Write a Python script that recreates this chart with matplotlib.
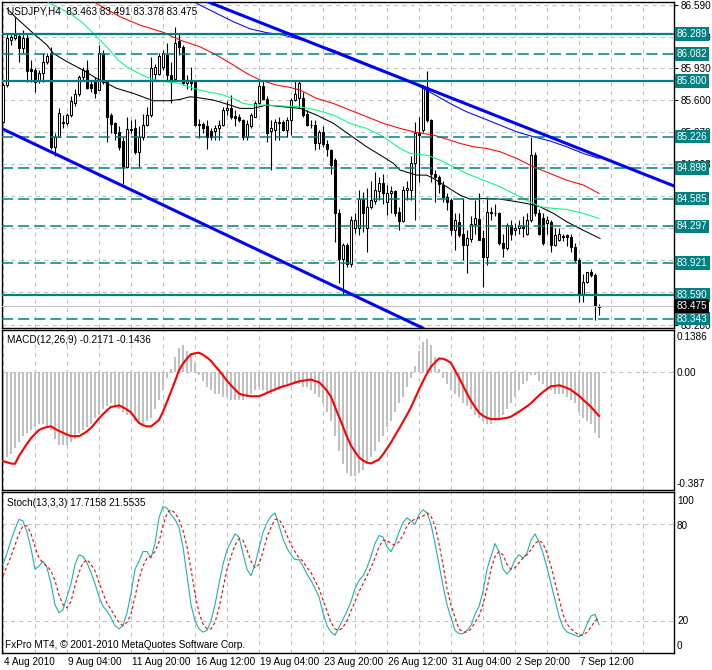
import numpy as np
import matplotlib
matplotlib.use('Agg')
import matplotlib.pyplot as plt
from matplotlib import transforms

plt.rcParams['font.family'] = ['Liberation Sans', 'DejaVu Sans']
plt.rcParams['lines.scale_dashes'] = False

# ---------------- data ----------------
opens = [85.38, 85.76, 86.22, 86.24, 86.27, 86.14, 86.24, 85.92, 85.91, 85.81,
         85.88, 86.00, 86.09, 85.12, 85.22, 85.37, 85.37, 85.45, 85.57, 85.67,
         85.84, 85.91, 85.77, 85.81, 85.71, 86.09, 85.79, 85.45, 85.37, 85.27,
         85.18, 84.91, 85.29, 85.31, 85.07, 85.22, 85.35, 85.45, 85.87, 85.87,
         85.95, 86.07, 85.86, 85.82, 86.21, 86.15, 85.78, 85.81, 85.79, 85.36,
         85.36, 85.33, 85.28, 85.28, 85.31, 85.34, 85.50, 85.52, 85.44, 85.43,
         85.40, 85.22, 85.33, 85.43, 85.57, 85.75, 85.61, 85.28, 85.29, 85.38,
         85.38, 85.29, 85.40, 85.60, 85.62, 85.62, 85.46, 85.35, 85.35, 85.16,
         85.27, 85.15, 85.09, 84.98, 84.43, 83.96, 84.10, 83.91, 84.28, 84.28,
         84.58, 84.28, 84.50, 84.56, 84.66, 84.75, 84.55, 84.64, 84.66, 84.45,
         84.35, 84.67, 84.67, 84.95, 85.26, 85.29, 85.74, 85.40, 84.84, 84.81,
         84.72, 84.60, 84.57, 84.26, 84.34, 84.22, 84.10, 84.17, 84.32, 84.37,
         84.18, 83.98, 84.45, 84.44, 84.43, 84.13, 84.07, 84.31, 84.26, 84.28,
         84.30, 84.22, 84.36, 85.04, 84.43, 84.38, 84.33, 84.34, 84.10, 84.16,
         84.20, 84.21, 84.19, 84.08, 83.95, 83.60, 83.72, 83.82, 83.79, 83.463]
highs = [85.78, 86.29, 86.29, 86.46, 86.29, 86.33, 86.29, 86.02, 85.93, 85.91,
         86.09, 86.09, 86.15, 85.26, 85.52, 85.45, 85.47, 85.64, 85.72, 85.86,
         85.95, 86.02, 85.81, 85.84, 86.17, 86.12, 85.81, 85.47, 85.38, 85.33,
         85.22, 85.43, 85.40, 85.41, 85.33, 85.46, 85.53, 86.05, 85.98, 86.09,
         86.12, 86.19, 86.00, 86.36, 86.29, 86.17, 85.86, 85.95, 85.79, 85.41,
         85.38, 85.40, 85.31, 85.34, 85.40, 85.53, 85.59, 85.66, 85.50, 85.46,
         85.41, 85.40, 85.47, 85.59, 85.81, 85.81, 85.64, 85.40, 85.41, 85.43,
         85.40, 85.43, 85.62, 85.81, 85.81, 85.69, 85.50, 85.40, 85.40, 85.29,
         85.33, 85.19, 85.10, 85.00, 84.48, 84.12, 84.12, 84.40, 84.43, 84.67,
         84.65, 84.69, 84.77, 84.86, 84.81, 84.84, 84.72, 84.71, 84.67, 84.50,
         84.71, 84.77, 85.02, 85.38, 85.43, 85.76, 85.90, 85.41, 84.88, 84.83,
         84.77, 84.64, 84.59, 84.43, 84.43, 84.59, 84.26, 84.40, 84.57, 84.64,
         84.26, 84.60, 84.50, 84.53, 84.45, 84.22, 84.33, 84.36, 84.33, 84.36,
         84.40, 84.43, 85.22, 85.07, 84.48, 84.43, 84.40, 84.36, 84.28, 84.28,
         84.22, 84.22, 84.22, 84.12, 83.97, 83.80, 83.83, 83.86, 83.81, 83.491]
lows = [85.37, 85.74, 86.17, 86.22, 86.00, 86.09, 85.79, 85.79, 85.69, 85.78,
        85.79, 85.98, 85.10, 85.02, 85.22, 85.31, 85.35, 85.43, 85.54, 85.65,
        85.81, 85.72, 85.69, 85.62, 85.71, 85.77, 85.17, 85.26, 85.19, 85.09,
        84.74, 84.90, 85.26, 85.05, 84.91, 85.19, 85.33, 85.43, 85.81, 85.86,
        85.91, 85.81, 85.57, 85.81, 86.07, 85.76, 85.72, 85.71, 85.33, 85.21,
        85.26, 85.10, 85.19, 85.19, 85.19, 85.33, 85.45, 85.41, 85.33, 85.38,
        85.19, 85.19, 85.31, 85.43, 85.56, 85.61, 85.17, 84.88, 85.19, 85.19,
        85.28, 85.22, 85.24, 85.59, 85.52, 85.43, 85.33, 85.31, 85.09, 85.10,
        85.12, 85.02, 84.84, 84.14, 83.71, 83.59, 83.88, 83.88, 84.23, 84.21,
        84.24, 84.03, 84.48, 84.53, 84.57, 84.53, 84.41, 84.43, 84.40, 84.26,
        84.34, 84.57, 84.57, 84.36, 84.76, 85.27, 85.38, 84.76, 84.55, 84.64,
        84.55, 84.47, 84.21, 84.05, 84.19, 83.95, 83.81, 84.14, 84.22, 84.16,
        83.67, 83.90, 84.36, 84.40, 84.10, 83.98, 84.05, 84.16, 84.21, 84.22,
        84.19, 84.21, 84.34, 84.40, 84.21, 84.10, 84.22, 84.03, 84.09, 84.15,
        84.15, 84.09, 84.03, 83.93, 83.52, 83.52, 83.71, 83.77, 83.33, 83.378]
closes = [85.76, 86.24, 86.25, 86.28, 86.14, 86.24, 85.90, 85.90, 85.79, 85.88,
          86.00, 86.06, 85.12, 85.22, 85.47, 85.38, 85.45, 85.59, 85.67, 85.84,
          85.91, 85.73, 85.73, 85.68, 86.09, 85.79, 85.43, 85.36, 85.26, 85.12,
          84.91, 85.30, 85.30, 85.07, 85.22, 85.35, 85.45, 85.93, 85.95, 86.06,
          86.09, 85.86, 85.82, 86.19, 86.15, 85.78, 85.81, 85.78, 85.35, 85.34,
          85.31, 85.22, 85.22, 85.31, 85.34, 85.50, 85.52, 85.43, 85.42, 85.40,
          85.22, 85.36, 85.45, 85.57, 85.75, 85.61, 85.26, 85.31, 85.38, 85.37,
          85.29, 85.40, 85.60, 85.67, 85.78, 85.45, 85.34, 85.34, 85.16, 85.27,
          85.15, 85.10, 84.93, 84.43, 83.96, 84.10, 83.91, 84.36, 84.36, 84.58,
          84.43, 84.50, 84.57, 84.67, 84.75, 84.64, 84.64, 84.66, 84.44, 84.35,
          84.67, 84.69, 84.95, 85.26, 85.24, 85.73, 85.40, 84.84, 84.81, 84.74,
          84.60, 84.55, 84.26, 84.36, 84.21, 84.10, 84.18, 84.32, 84.38, 84.16,
          83.98, 84.45, 84.43, 84.43, 84.13, 84.07, 84.31, 84.22, 84.28, 84.30,
          84.28, 84.36, 85.04, 84.43, 84.22, 84.12, 84.36, 84.10, 84.21, 84.22,
          84.19, 84.19, 84.08, 83.95, 83.60, 83.72, 83.82, 83.79, 83.47, 83.475]

# moving averages: (bar, price) samples
ma_black_x = [1, 3, 7.6, 11, 12.6, 16, 20, 23.4, 26, 28.4, 32.6, 36, 37.6, 41.75, 44.25, 46.75,
              48.4, 52.6, 55.9, 59.25, 62.6, 65.9, 70, 74.25, 78.4, 82.6, 86.75, 90.9, 95,
              97.6, 99.25, 103.4, 105.9, 107.6, 110.9, 114.25, 116.75, 120.9, 124.25, 128.4,
              131.75, 134.25, 137.6, 140.9, 145, 149.25]
ma_black_y = [86.55, 86.465, 86.292, 86.172, 86.085, 86.000, 85.913, 85.827, 85.775, 85.724,
              85.672, 85.620, 85.596, 85.596, 85.610, 85.637, 85.630, 85.603, 85.562, 85.517,
              85.517, 85.551, 85.534, 85.517, 85.448, 85.362, 85.241, 85.120, 85.017, 84.948,
              84.879, 84.827, 84.827, 84.793, 84.707, 84.620, 84.579, 84.586, 84.579, 84.552,
              84.527, 84.500, 84.431, 84.345, 84.258, 84.172]
ma_green_x = [11.3, 16.75, 20.1, 23.4, 25.9, 28.8, 30.9, 34.25, 36.75, 38.4, 40.9, 44.25, 47.6,
              50.9, 54.25, 57.6, 60.1, 62.6, 65.9, 70.1, 74.25, 78.4, 82.6, 86.75, 90.9, 95.1,
              99.25, 101.75, 105.9, 109.25, 112.6, 115.9, 120.1, 124.25, 128.4, 131.75, 134.25,
              137.6, 140.9, 145.1, 149.0]
ma_green_y = [86.61, 86.499, 86.396, 86.258, 86.154, 86.016, 85.948, 85.872, 85.827, 85.810,
              85.792, 85.775, 85.724, 85.689, 85.665, 85.620, 85.568, 85.551, 85.551, 85.541,
              85.534, 85.499, 85.448, 85.362, 85.310, 85.224, 85.103, 85.051, 85.034, 84.982,
              84.913, 84.844, 84.775, 84.707, 84.620, 84.552, 84.500, 84.483, 84.472, 84.431,
              84.379]
ma_red_x = [23, 29.25, 34.25, 40.1, 44.25, 49.25, 53.4, 57.6, 60.9, 64.25, 68.4, 71.75, 74.25,
            78.4, 82.6, 86.75, 90.9, 95.1, 99.25, 103.4, 107.6, 111.75, 114.25, 117.6, 120.9,
            124.25, 128.4, 132.6, 136.75, 140.9, 145.1, 149.0]
ma_red_y = [86.61, 86.465, 86.378, 86.303, 86.223, 86.154, 86.068, 85.965, 85.879, 85.810,
            85.758, 85.734, 85.706, 85.620, 85.568, 85.499, 85.431, 85.362, 85.310, 85.268,
            85.241, 85.189, 85.155, 85.120, 85.103, 85.069, 85.000, 84.913, 84.844, 84.775,
            84.724, 84.638]
ma_blue_x = [48.4, 53.4, 57.6, 61.75, 65.9, 70.1, 74.25, 82.6, 90.9, 99.25, 103.4, 107.6, 111.75,
             115.9, 120.1, 124.25, 128.4, 132.6, 136.75, 140.9, 145.1, 149.0]
ma_blue_y = [86.603, 86.499, 86.413, 86.34, 86.30, 86.275, 86.23, 86.12, 85.98, 85.84, 85.76,
             85.665, 85.568, 85.482, 85.413, 85.344, 85.275, 85.224, 85.18, 85.12, 85.05, 85.0]

# trend lines (two anchor points each: bar, price)
trend_upper = [(51.75, 86.61), (149.25, 85.017)]
trend_lower = [(-0.75, 85.317), (104.25, 83.259)]

level_solid = [86.289, 85.800, 83.590]
level_dashed = [86.082, 85.226, 84.898, 84.585, 84.297, 83.921, 83.343]
bid = 83.475

price_ticks = [86.590, 86.260, 85.930, 85.600, 85.270, 84.938, 84.610, 84.280, 83.950, 83.620, 83.280]
# labels that sit fully under the level boxes in the reference are left blank
price_labels = ['86.590', '86.260', '85.930', '85.600', '85.270', '84.938', '', '',
                '', '', '83.280']

macd_hist = [-0.29, -0.28, -0.27, -0.25, -0.23, -0.21, -0.20, -0.19, -0.18, -0.17,
             -0.17, -0.18, -0.19, -0.22, -0.24, -0.24, -0.24, -0.23, -0.22, -0.20,
             -0.19, -0.18, -0.17, -0.15, -0.14, -0.12, -0.11, -0.10, -0.11, -0.12,
             -0.13, -0.14, -0.14, -0.16, -0.17, -0.17, -0.16, -0.15, -0.12, -0.09,
             -0.06, -0.02, 0.01, 0.05, 0.08, 0.09, 0.07, 0.06, 0.03, -0.01,
             -0.03, -0.05, -0.06, -0.07, -0.07, -0.08, -0.08, -0.09, -0.09, -0.09,
             -0.09, -0.08, -0.07, -0.06, -0.05, -0.06, -0.07, -0.07, -0.06, -0.06,
             -0.05, -0.04, -0.04, -0.04, -0.04, -0.05, -0.05, -0.06, -0.07, -0.08,
             -0.10, -0.13, -0.16, -0.21, -0.26, -0.30, -0.33, -0.34, -0.34, -0.33,
             -0.32, -0.30, -0.28, -0.26, -0.23, -0.21, -0.18, -0.16, -0.13, -0.10,
             -0.08, -0.05, -0.02, 0.02, 0.07, 0.10, 0.11, 0.09, 0.05, 0.01,
             -0.02, -0.04, -0.06, -0.07, -0.08, -0.10, -0.11, -0.12, -0.14, -0.15,
             -0.16, -0.17, -0.17, -0.16, -0.15, -0.14, -0.12, -0.10, -0.08, -0.06,
             -0.04, -0.03, -0.01, -0.01, -0.03, -0.04, -0.05, -0.06, -0.07, -0.07,
             -0.07, -0.08, -0.09, -0.10, -0.13, -0.15, -0.16, -0.17, -0.20, -0.2171]
macd_signal = [-0.292, -0.296, -0.300, -0.301, -0.275, -0.255, -0.235, -0.217, -0.203, -0.190,
               -0.184, -0.180, -0.178, -0.186, -0.193, -0.199, -0.205, -0.210, -0.210, -0.210,
               -0.203, -0.194, -0.183, -0.168, -0.152, -0.138, -0.125, -0.114, -0.112, -0.109,
               -0.115, -0.123, -0.132, -0.150, -0.167, -0.174, -0.178, -0.178, -0.168, -0.157,
               -0.130, -0.097, -0.064, -0.030, 0.006, 0.028, 0.045, 0.059, 0.062, 0.064,
               0.057, 0.048, 0.037, 0.021, 0.006, -0.011, -0.028, -0.043, -0.057, -0.070,
               -0.075, -0.077, -0.079, -0.079, -0.079, -0.074, -0.068, -0.062, -0.057, -0.051,
               -0.047, -0.043, -0.039, -0.034, -0.030, -0.028, -0.026, -0.024, -0.029, -0.033,
               -0.046, -0.061, -0.081, -0.114, -0.146, -0.179, -0.212, -0.241, -0.261, -0.280,
               -0.290, -0.297, -0.300, -0.293, -0.287, -0.270, -0.251, -0.231, -0.208, -0.186,
               -0.163, -0.140, -0.115, -0.086, -0.057, -0.030, -0.004, 0.018, 0.032, 0.045,
               0.044, 0.039, 0.030, 0.006, -0.018, -0.044, -0.070, -0.094, -0.114, -0.133,
               -0.143, -0.150, -0.154, -0.154, -0.154, -0.152, -0.150, -0.146, -0.138, -0.130,
               -0.121, -0.112, -0.102, -0.089, -0.076, -0.065, -0.055, -0.046, -0.045, -0.043,
               -0.047, -0.052, -0.058, -0.068, -0.077, -0.090, -0.102, -0.114, -0.129, -0.1436]

stoch_k = [55, 62, 70, 77, 83, 82, 75, 65, 52, 54, 57, 53, 43, 30, 25, 27, 35, 43, 55, 61,
           60, 56, 50, 43, 35, 29, 26, 22, 17, 15, 17, 25, 37, 52, 57, 63, 63, 59, 68, 84,
           91, 90, 86, 83, 78, 66, 48, 30, 20, 15, 13, 14, 20, 30, 43, 55, 64, 69, 74, 72,
           62, 52, 48, 55, 65, 75, 81, 85, 87, 79, 71, 65, 61, 58, 58, 54, 49, 45, 40, 35,
           25, 17, 13, 11, 16, 21, 26, 32, 40, 45, 48, 53, 60, 68, 73, 72, 66, 63, 68, 75,
           81, 84, 82, 80, 86, 89, 87, 80, 68, 55, 42, 30, 22, 14, 12, 12, 14, 17, 24, 29,
           38, 52, 60, 68, 63, 52, 49, 52, 58, 61, 59, 62, 70, 74, 69, 62, 53, 43, 33, 23,
           16, 13, 12, 11, 10, 12, 18, 23, 24, 17.7158]
stoch_d = [48, 54, 60, 67, 74, 79, 79, 74, 66, 59, 56, 54, 51, 45, 36, 30, 28, 32, 42, 50,
           56, 58, 55, 51, 44, 37, 31, 27, 23, 19, 17, 19, 24, 35, 46, 54, 59, 60, 63, 69,
           79, 87, 89, 87, 83, 76, 66, 52, 37, 25, 18, 15, 15, 19, 28, 40, 52, 60, 67, 71,
           70, 64, 57, 53, 55, 63, 72, 78, 83, 83, 79, 73, 67, 63, 59, 57, 53, 50, 45, 40,
           33, 26, 19, 15, 14, 16, 20, 26, 32, 38, 43, 48, 53, 59, 66, 70, 70, 68, 67, 69,
           73, 79, 82, 83, 84, 85, 87, 85, 79, 68, 55, 40, 30, 22, 15, 13, 13, 15, 19, 23,
           30, 40, 52, 60, 63, 61, 55, 52, 53, 56, 59, 61, 64, 68, 70, 68, 62, 54, 44, 34,
           24, 18, 15, 13, 11, 11, 13, 16, 20, 21.5535]

time_label_bars = [0, 16, 32, 48, 64, 80, 96, 112, 128, 144]
time_labels = ['4 Aug 2010', '9 Aug 04:00', '11 Aug 20:00', '16 Aug 12:00', '19 Aug 04:00',
               '23 Aug 20:00', '26 Aug 12:00', '31 Aug 04:00', '2 Sep 20:00', '7 Sep 12:00']

# ---------------- figure ----------------
W, H = 712, 670
fig = plt.figure(figsize=(W / 100, H / 100), dpi=100)
fig.patch.set_facecolor('white')


def rect(top, bottom, left=2, right=674):
    return [left / W, 1 - bottom / H, (right - left) / W, (bottom - top) / H]


ax = fig.add_axes(rect(2, 328))
axm = fig.add_axes(rect(330, 490))
axs = fig.add_axes(rect(492, 653))

XL = (-0.25, 167.75)
GRID = '#C0C0C0'
TEAL = '#008080'
FS = 7.2

for a in (ax, axm, axs):
    a.set_xlim(*XL)
    a.set_xticks(np.arange(0, 168, 8))
    a.tick_params(axis='x', which='major', length=0, labelbottom=False)
    a.grid(True, axis='x', color=GRID, linestyle=(0, (3, 3)), linewidth=0.75, zorder=0)
    for s in a.spines.values():
        s.set_linewidth(1.0)
        s.set_color('black')
    a.set_axisbelow(True)

# ---- main panel ----
ax.set_ylim(83.246, 86.617)
ax.yaxis.set_ticks_position('right')
ax.set_yticks(price_ticks)
ax.set_yticklabels(price_labels)
ax.tick_params(axis='y', length=3, width=0.8, pad=2, labelsize=FS)
ax.grid(True, axis='y', color=GRID, linestyle=(0, (3, 3)), linewidth=0.75, zorder=0)

idx = np.arange(len(closes))
o = np.array(opens); hi = np.array(highs); lo = np.array(lows); c = np.array(closes)
ax.vlines(idx, lo, hi, color='black', linewidth=0.8, zorder=2)
up = c >= o
bb = np.minimum(o, c)
bh = np.maximum(np.abs(c - o), 0.006)
ax.bar(idx[up], bh[up], bottom=bb[up], width=0.55, facecolor='white', edgecolor='black',
       linewidth=0.75, zorder=3)
ax.bar(idx[~up], bh[~up], bottom=bb[~up], width=0.55, facecolor='black', edgecolor='black',
       linewidth=0.75, zorder=3)

ax.plot(ma_black_x, ma_black_y, color='black', linewidth=0.75, zorder=4)
ax.plot(ma_green_x, ma_green_y, color='#00FF7F', linewidth=0.75, zorder=4)
ax.plot(ma_red_x, ma_red_y, color='#FF0000', linewidth=0.75, zorder=4)
ax.plot(ma_blue_x, ma_blue_y, color='#0000FF', linewidth=0.75, zorder=4)

ax.axhline(bid, color='#C0C0C0', linewidth=0.75, zorder=4)
for v in level_solid:
    ax.axhline(v, color=TEAL, linewidth=1.6, zorder=5)
for v in level_dashed:
    ax.axhline(v, color=TEAL, linewidth=1.1, linestyle=(0, (8, 3.6)), zorder=5)

ax.axline(trend_upper[0], trend_upper[1], color='#0000FF', linewidth=2.2, zorder=6)
ax.axline(trend_lower[0], trend_lower[1], color='#0000FF', linewidth=2.2, zorder=6)

tr = transforms.blended_transform_factory(ax.transAxes, ax.transData)
tro = transforms.offset_copy(tr, fig=fig, x=3, y=0, units='dots')
for v in level_solid + level_dashed:
    ax.text(1.0, v, f'{v:.3f}', transform=tro, ha='left', va='center', color='white',
            fontsize=FS, zorder=20, clip_on=False,
            bbox=dict(boxstyle='square,pad=0.18', fc=TEAL, ec='none'))
ax.text(1.0, bid, f'{bid:.3f}', transform=tro, ha='left', va='center', color='white',
        fontsize=FS, zorder=21, clip_on=False,
        bbox=dict(boxstyle='square,pad=0.18', fc='black', ec='none'))

fig.text(7 / W, 1 - 11 / H, 'USDJPY,H4  83.463 83.491 83.378 83.475', fontsize=FS,
         ha='left', va='center', color='black')

# ---- MACD panel ----
axm.set_ylim(-0.387, 0.1386)
axm.set_yticks([])
axm.axhline(0, color=GRID, linestyle=(0, (3, 3)), linewidth=0.75, zorder=0)
axm.bar(idx, macd_hist, width=0.55, color='#C0C0C0', zorder=2)
axm.plot(idx, macd_signal, color='#FF0000', linewidth=1.5, zorder=3)
fig.text(7 / W, 1 - 340 / H, 'MACD(12,26,9) -0.2171 -0.1436', fontsize=FS, ha='left',
         va='center', color='black')
for txt, ypx in [('0.1386', 337), ('0.00', 373), ('-0.387', 484)]:
    fig.text(677 / W, 1 - ypx / H, txt, fontsize=FS, ha='left', va='center', color='black')

# ---- Stochastic panel ----
axs.set_ylim(0, 100)
axs.set_yticks([])
for v in (20, 80):
    axs.axhline(v, color=GRID, linestyle=(0, (3, 3)), linewidth=0.75, zorder=0)
axs.plot(idx, stoch_k, color='#20B2AA', linewidth=0.8, zorder=3)
axs.plot(idx, stoch_d, color='#FF0000', linewidth=0.8, linestyle=(0, (2.2, 1.8)), zorder=3)
fig.text(7 / W, 1 - 503 / H, 'Stoch(13,3,3) 17.7158 21.5535', fontsize=FS, ha='left',
         va='center', color='black')
for txt, ypx in [('100', 501), ('80', 526), ('20', 621), ('0', 646)]:
    fig.text(677 / W, 1 - ypx / H, txt, fontsize=FS, ha='left', va='center', color='black')
fig.text(5 / W, 1 - 645 / H, 'FxPro MT4, \u00a9 2001-2010 MetaQuotes Software Corp.',
         fontsize=FS, ha='left', va='center', color='black')

axs.set_xticks(time_label_bars, minor=True)
axs.tick_params(axis='x', which='minor', length=4, width=0.8, direction='out', labelbottom=False)
for b, lab in zip(time_label_bars, time_labels):
    xpx = 3 + 4 * b
    fig.text((xpx + 1) / W, 1 - 662 / H, lab, fontsize=FS, ha='left', va='center', color='black')

fig.savefig('out.png', dpi=100, facecolor='white')
